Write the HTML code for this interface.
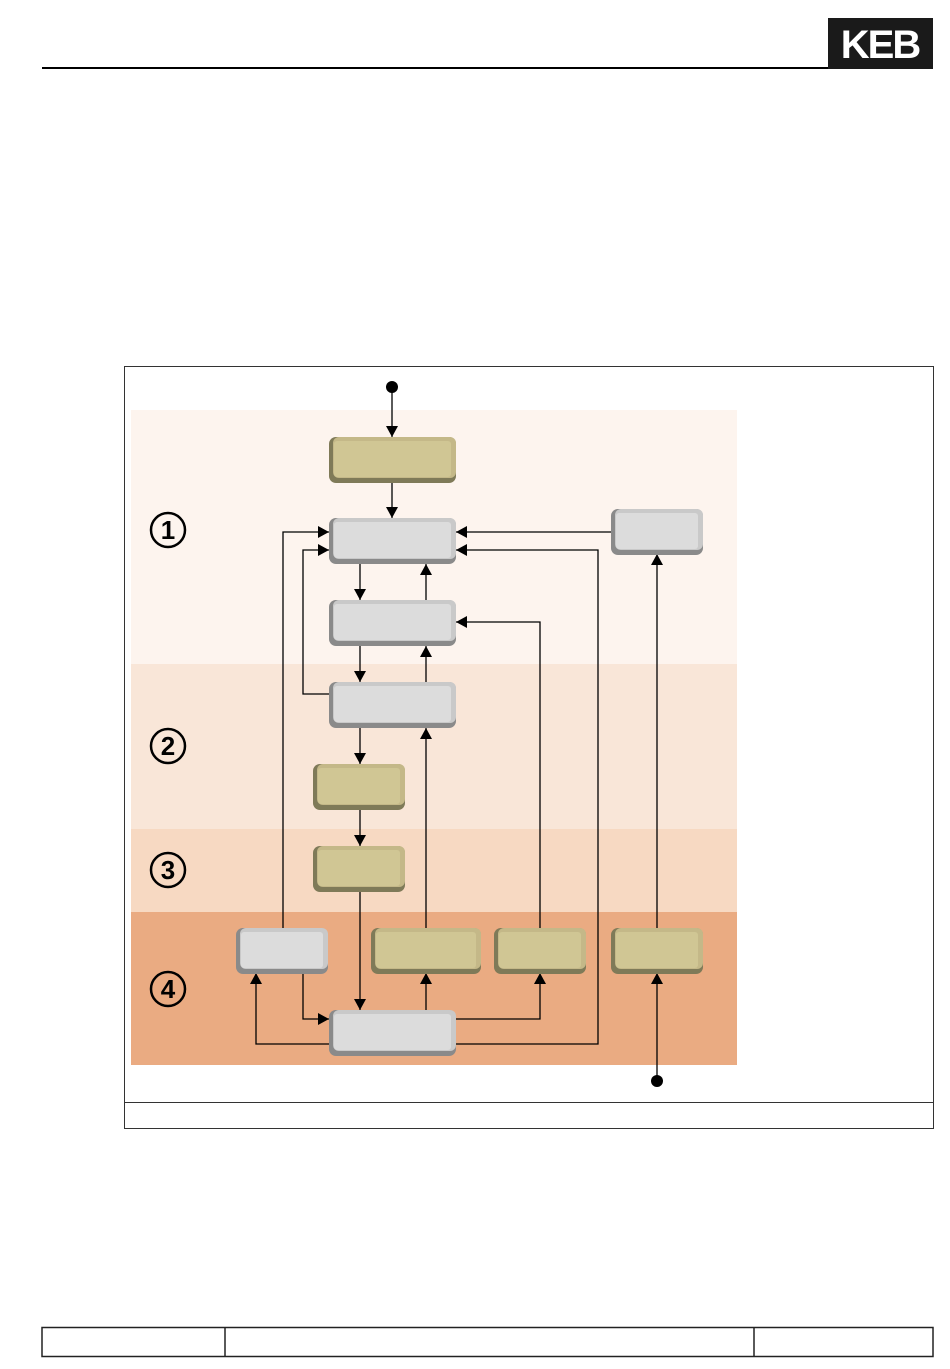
<!DOCTYPE html>
<html><head><meta charset="utf-8"><style>
html,body{margin:0;padding:0;background:#fff;width:950px;height:1369px;overflow:hidden}
svg{display:block}
</style></head><body>
<svg width="950" height="1369" viewBox="0 0 950 1369" xmlns="http://www.w3.org/2000/svg" font-family="Liberation Sans, sans-serif">
<defs>
<marker id="a" markerUnits="userSpaceOnUse" markerWidth="12" markerHeight="12" refX="11" refY="6" orient="auto">
<path d="M0,0 L11,6 L0,12 z" fill="#000"/></marker>
<g id="gb">
</g>
</defs>
<!-- header -->
<line x1="42" y1="68" x2="830" y2="68" stroke="#000" stroke-width="2"/>
<rect x="828" y="18" width="105" height="51" fill="#1a1a1a"/>
<text x="880" y="58" font-size="40" font-weight="bold" fill="#fff" text-anchor="middle" letter-spacing="-2">KEB</text>
<!-- frame -->
<rect x="124.5" y="366.5" width="809" height="762" fill="none" stroke="#333" stroke-width="1"/>
<line x1="124" y1="1102.5" x2="933" y2="1102.5" stroke="#333"/>
<!-- bands -->
<rect x="131" y="410" width="606" height="254" fill="#fdf4ee"/>
<rect x="131" y="664" width="606" height="165" fill="#f9e6d8"/>
<rect x="131" y="829" width="606" height="83" fill="#f7d9c2"/>
<rect x="131" y="912" width="606" height="153" fill="#eaab82"/>
<!-- numbers -->
<g fill="none" stroke="#000" stroke-width="2.5">
<circle cx="168" cy="530" r="17"/><circle cx="168" cy="746" r="17"/><circle cx="168" cy="870" r="17"/><circle cx="168" cy="989" r="17"/>
</g>
<g font-size="26" font-weight="bold" text-anchor="middle">
<text x="168" y="539">1</text><text x="168" y="755">2</text><text x="168" y="879">3</text><text x="168" y="998">4</text>
</g>
<!-- connectors -->
<g fill="none" stroke="#000" stroke-width="1.3">
<path d="M392 387 V437" marker-end="url(#a)"/>
<path d="M392 482 V518" marker-end="url(#a)"/>
<path d="M360 564 V600" marker-end="url(#a)"/>
<path d="M426 600 V564" marker-end="url(#a)"/>
<path d="M360 646 V682" marker-end="url(#a)"/>
<path d="M426 682 V646" marker-end="url(#a)"/>
<path d="M360 728 V764" marker-end="url(#a)"/>
<path d="M360 809 V846" marker-end="url(#a)"/>
<path d="M360 891 V1010" marker-end="url(#a)"/>
<path d="M283 928 V532 H329" marker-end="url(#a)"/>
<path d="M329 694 H303 V550 H329" marker-end="url(#a)"/>
<path d="M426 928 V728" marker-end="url(#a)"/>
<path d="M540 928 V622 H456" marker-end="url(#a)"/>
<path d="M611 532 H456" marker-end="url(#a)"/>
<path d="M456 1044 H598 V550 H456" marker-end="url(#a)"/>
<path d="M657 928 V554" marker-end="url(#a)"/>
<path d="M657 1081 V973" marker-end="url(#a)"/>
<path d="M426 1010 V973" marker-end="url(#a)"/>
<path d="M456 1019 H540 V973" marker-end="url(#a)"/>
<path d="M303 973 V1019 H329" marker-end="url(#a)"/>
<path d="M329 1044 H256 V973" marker-end="url(#a)"/>
</g>
<circle cx="392" cy="387" r="6" fill="#000"/>
<circle cx="657" cy="1081" r="6" fill="#000"/>
<!-- boxes gray -->
<g>
<g transform="translate(329,518)"><rect width="127" height="46" rx="7" fill="#8a8a8a"/><rect x="4" width="123" height="41" rx="6" fill="#c9c9c9"/><rect x="5" y="4" width="117" height="36" rx="3" fill="#dcdcdc"/></g>
<g transform="translate(329,600)"><rect width="127" height="46" rx="7" fill="#8a8a8a"/><rect x="4" width="123" height="41" rx="6" fill="#c9c9c9"/><rect x="5" y="4" width="117" height="36" rx="3" fill="#dcdcdc"/></g>
<g transform="translate(329,682)"><rect width="127" height="46" rx="7" fill="#8a8a8a"/><rect x="4" width="123" height="41" rx="6" fill="#c9c9c9"/><rect x="5" y="4" width="117" height="36" rx="3" fill="#dcdcdc"/></g>
<g transform="translate(329,1010)"><rect width="127" height="46" rx="7" fill="#8a8a8a"/><rect x="4" width="123" height="41" rx="6" fill="#c9c9c9"/><rect x="5" y="4" width="117" height="36" rx="3" fill="#dcdcdc"/></g>
<g transform="translate(611,509)"><rect width="92" height="46" rx="7" fill="#8a8a8a"/><rect x="4" width="88" height="41" rx="6" fill="#c9c9c9"/><rect x="5" y="4" width="82" height="36" rx="3" fill="#dcdcdc"/></g>
<g transform="translate(236,928)"><rect width="92" height="46" rx="7" fill="#8a8a8a"/><rect x="4" width="88" height="41" rx="6" fill="#c9c9c9"/><rect x="5" y="4" width="82" height="36" rx="3" fill="#dcdcdc"/></g>
</g>
<!-- boxes olive -->
<g>
<g transform="translate(329,437)"><rect width="127" height="46" rx="7" fill="#7f7a58"/><rect x="4" width="123" height="41" rx="6" fill="#c4b888"/><rect x="5" y="4" width="117" height="36" rx="3" fill="#d0c694"/></g>
<g transform="translate(313,764)"><rect width="92" height="46" rx="7" fill="#7f7a58"/><rect x="4" width="88" height="41" rx="6" fill="#c4b888"/><rect x="5" y="4" width="82" height="36" rx="3" fill="#d0c694"/></g>
<g transform="translate(313,846)"><rect width="92" height="46" rx="7" fill="#7f7a58"/><rect x="4" width="88" height="41" rx="6" fill="#c4b888"/><rect x="5" y="4" width="82" height="36" rx="3" fill="#d0c694"/></g>
<g transform="translate(371,928)"><rect width="110" height="46" rx="7" fill="#7f7a58"/><rect x="4" width="106" height="41" rx="6" fill="#c4b888"/><rect x="5" y="4" width="100" height="36" rx="3" fill="#d0c694"/></g>
<g transform="translate(494,928)"><rect width="92" height="46" rx="7" fill="#7f7a58"/><rect x="4" width="88" height="41" rx="6" fill="#c4b888"/><rect x="5" y="4" width="82" height="36" rx="3" fill="#d0c694"/></g>
<g transform="translate(611,928)"><rect width="92" height="46" rx="7" fill="#7f7a58"/><rect x="4" width="88" height="41" rx="6" fill="#c4b888"/><rect x="5" y="4" width="82" height="36" rx="3" fill="#d0c694"/></g>
</g>
<!-- footer -->
<g fill="none" stroke="#222" stroke-width="1.5">
<rect x="42" y="1327.5" width="891" height="29"/>
<line x1="225" y1="1327" x2="225" y2="1357"/>
<line x1="754" y1="1327" x2="754" y2="1357"/>
</g>
</svg>
</body></html>
